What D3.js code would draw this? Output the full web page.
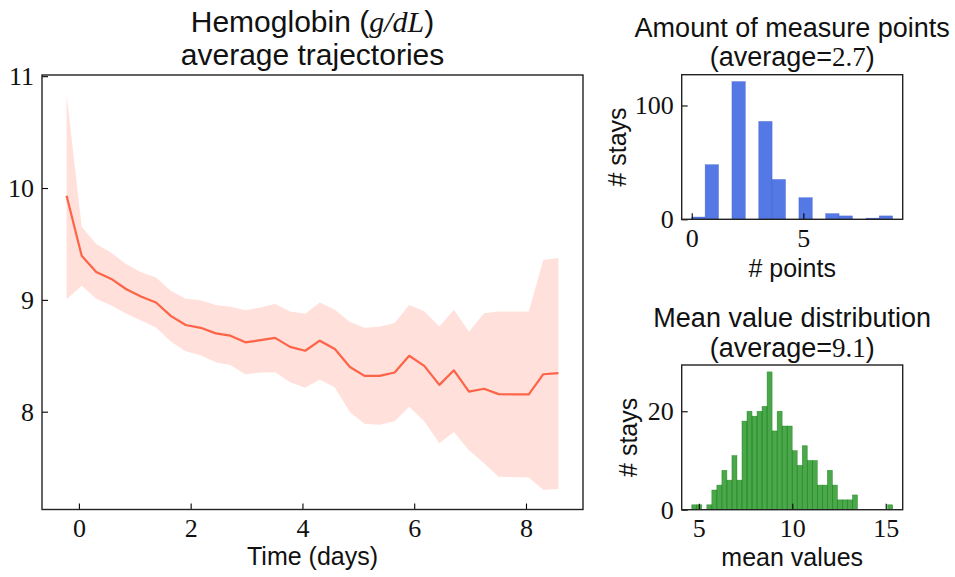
<!DOCTYPE html>
<html><head><meta charset="utf-8">
<script src="https://cdn.jsdelivr.net/npm/d3@7"></script>
<style>body{margin:0;background:#fff} svg{display:block}</style>
</head><body><svg id="c" width="955" height="577"></svg>
<script>
// ---- Main chart data: Hemoglobin average trajectories ----
const times = [-0.22, 0.05, 0.31, 0.58, 0.85, 1.11, 1.38, 1.65, 1.91, 2.18, 2.45, 2.71, 2.98, 3.25, 3.51, 3.78, 4.05,
  4.31, 4.58, 4.85, 5.11, 5.38, 5.65, 5.91, 6.18, 6.45, 6.71, 6.98, 7.25, 7.51, 7.78, 8.05, 8.31, 8.58];
const meanValues = [9.93, 9.395, 9.25, 9.187, 9.095, 9.03, 8.976, 8.855, 8.775, 8.75, 8.70, 8.68, 8.62, 8.64, 8.66, 8.58, 8.545,
  8.635, 8.56, 8.40, 8.32, 8.32, 8.35, 8.50, 8.41, 8.24, 8.37, 8.18, 8.205, 8.157, 8.155, 8.155, 8.335, 8.344];
const upperValues = [10.834, 9.653, 9.499, 9.421, 9.318, 9.247, 9.199, 9.080, 9.009, 8.997, 8.955, 8.938, 8.908, 8.932, 8.962, 8.896, 8.875,
  8.976, 8.911, 8.801, 8.751, 8.760, 8.792, 8.955, 8.899, 8.762, 8.911, 8.715, 8.881, 8.896, 8.896, 8.896, 9.356, 9.374];
const lowerValues = [9.006, 9.127, 9.009, 8.95, 8.875, 8.816, 8.753, 8.626, 8.54, 8.504, 8.442, 8.418, 8.335, 8.35, 8.353, 8.264, 8.214,
  8.288, 8.216, 7.996, 7.893, 7.884, 7.914, 8.044, 7.914, 7.718, 7.818, 7.655, 7.54, 7.418, 7.416, 7.412, 7.302, 7.308];
const mainXTicks = [0, 2, 4, 6, 8];
const mainYTicks = [8, 9, 10, 11];

// ---- Histogram 1: amount of measure points ----
const pointValues = [0, 1, 2, 3, 4, 5, 6, 7, 8, 9];
const pointBinStarts = [0, 0.6, 1.8, 3.0, 3.6, 4.8, 6.0, 6.6, 7.8, 8.4];
const pointCounts = [2, 48, 121, 86, 35, 19, 5, 3, 1, 3];
const pointBinWidth = 0.6;
const pointXTicks = [0, 5];
const pointYTicks = [0, 100];
const pointAverage = "2.7";

// ---- Histogram 2: mean value distribution ----
const meanRange = [4.62, 15.37];
const meanCounts = [1, 1, 0, 1, 4, 5, 8, 6, 11, 6, 18, 20, 19, 20, 21, 28, 16, 20, 17, 17,
  12, 9, 13, 10, 10, 5, 5, 8, 5, 2, 2, 2, 3, 0, 0, 0, 0, 0, 0, 1];
const meanXTicks = [5, 10, 15];
const meanYTicks = [0, 20];
const meanAverage = "9.1";

const SANS = "'Liberation Sans', Arial, Helvetica, sans-serif";
const SERIF = "'Liberation Serif', 'Times New Roman', serif";
const svg = d3.select("#c");

function padDomain(lo, hi, f = 0.05) { const p = (hi - lo) * f; return [lo - p, hi + p]; }

function drawAxes(g, x, y, xt, yt, box) {
  const ax = g.append("g").attr("transform", `translate(0,${box.b})`)
    .call(d3.axisBottom(x).tickValues(xt).tickSizeInner(-6).tickSizeOuter(0).tickPadding(9).tickFormat(d3.format("d")));
  const ay = g.append("g").attr("transform", `translate(${box.l},0)`)
    .call(d3.axisLeft(y).tickValues(yt).tickSizeInner(-6).tickSizeOuter(0).tickPadding(8).tickFormat(d3.format("d")));
  [ax, ay].forEach(a => {
    a.select(".domain").remove();
    a.selectAll(".tick line").attr("stroke", "#000").attr("stroke-width", 1.1);
    a.selectAll("text").attr("font-family", SERIF).attr("font-size", 26).attr("fill", "#111");
  });
  g.append("rect").attr("x", box.l).attr("y", box.t).attr("width", box.r - box.l).attr("height", box.b - box.t)
    .attr("fill", "none").attr("stroke", "#222").attr("stroke-width", 1.4);
}

function twoLineTitle(cx, y1, y2, size, line1, line2) {
  const t1 = svg.append("text").attr("x", cx).attr("y", y1).attr("text-anchor", "middle")
    .attr("font-family", SANS).attr("font-size", size).attr("fill", "#111");
  line1(t1);
  const t2 = svg.append("text").attr("x", cx).attr("y", y2).attr("text-anchor", "middle")
    .attr("font-family", SANS).attr("font-size", size).attr("fill", "#111");
  line2(t2);
}

// ===== Main chart =====
{
  const box = {l: 42, r: 583, t: 75, b: 509.5};
  const x = d3.scaleLinear().domain(padDomain(...d3.extent(times))).range([box.l, box.r]);
  const yExt = d3.extent(lowerValues.concat(upperValues));
  const y = d3.scaleLinear().domain(padDomain(...yExt)).range([box.b, box.t]);
  const g = svg.append("g");
  const idx = d3.range(times.length);
  g.append("path").datum(idx)
    .attr("d", d3.area().x(i => x(times[i])).y0(i => y(lowerValues[i])).y1(i => y(upperValues[i])))
    .attr("fill", "tomato").attr("fill-opacity", 0.2);
  g.append("path").datum(idx)
    .attr("d", d3.line().x(i => x(times[i])).y(i => y(meanValues[i])))
    .attr("fill", "none").attr("stroke", "tomato").attr("stroke-width", 2.2).attr("stroke-linejoin", "round");
  drawAxes(g, x, y, mainXTicks, mainYTicks, box);
  svg.append("text").attr("x", (box.l + box.r) / 2).attr("y", 565).attr("text-anchor", "middle")
    .attr("font-family", SANS).attr("font-size", 25).attr("fill", "#111").text("Time (days)");
  twoLineTitle((box.l + box.r) / 2, 32, 65, 30,
    t => { t.append("tspan").text("Hemoglobin (");
           t.append("tspan").attr("font-family", SERIF).attr("font-style", "italic").text("g/dL");
           t.append("tspan").text(")"); },
    t => t.text("average trajectories"));
}

// ===== Histogram 1 =====
{
  const box = {l: 681.7, r: 902.7, t: 74.7, b: 219.3};
  const x = d3.scaleLinear().domain(padDomain(d3.min(pointBinStarts), d3.max(pointBinStarts) + pointBinWidth)).range([box.l, box.r]);
  const y = d3.scaleLinear().domain([0, d3.max(pointCounts) * 1.05]).range([box.b, box.t]);
  const g = svg.append("g");
  g.selectAll("rect.bar").data(pointCounts).join("rect").attr("class", "bar")
    .attr("x", (d, i) => x(pointBinStarts[i])).attr("width", (d, i) => x(pointBinStarts[i] + pointBinWidth) - x(pointBinStarts[i]))
    .attr("y", d => y(d)).attr("height", d => y(0) - y(d))
    .attr("fill", "royalblue").attr("fill-opacity", 0.9)
    .attr("stroke", "#3050c8").attr("stroke-opacity", 0.5).attr("stroke-width", 0.6);
  drawAxes(g, x, y, pointXTicks, pointYTicks, box);
  svg.append("text").attr("transform", `translate(626,${(box.t + box.b) / 2}) rotate(-90)`).attr("text-anchor", "middle")
    .attr("font-family", SANS).attr("font-size", 25).attr("fill", "#111").text("# stays");
  svg.append("text").attr("x", (box.l + box.r) / 2).attr("y", 277).attr("text-anchor", "middle")
    .attr("font-family", SANS).attr("font-size", 25).attr("fill", "#111").text("# points");
  twoLineTitle((box.l + box.r) / 2, 37, 66, 27,
    t => t.text("Amount of measure points"),
    t => { t.append("tspan").text("(average=");
           t.append("tspan").attr("font-family", SERIF).text(pointAverage);
           t.append("tspan").text(")"); });
}

// ===== Histogram 2 =====
{
  const box = {l: 681.7, r: 902.7, t: 365, b: 509.7};
  const nb = meanCounts.length;
  const edges = d3.range(nb + 1).map(i => meanRange[0] + i * (meanRange[1] - meanRange[0]) / nb);
  const x = d3.scaleLinear().domain(padDomain(...meanRange)).range([box.l, box.r]);
  const y = d3.scaleLinear().domain([0, d3.max(meanCounts) * 1.05]).range([box.b, box.t]);
  const g = svg.append("g");
  g.selectAll("rect.bar").data(meanCounts).join("rect").attr("class", "bar")
    .attr("x", (d, i) => x(edges[i])).attr("width", (d, i) => x(edges[i + 1]) - x(edges[i]))
    .attr("y", d => y(d)).attr("height", d => y(0) - y(d))
    .attr("fill", "green").attr("fill-opacity", 0.7)
    .attr("stroke", "green").attr("stroke-opacity", d => d > 0 ? 0.6 : 0).attr("stroke-width", 0.6);
  drawAxes(g, x, y, meanXTicks, meanYTicks, box);
  svg.append("text").attr("transform", `translate(637,${(box.t + box.b) / 2}) rotate(-90)`).attr("text-anchor", "middle")
    .attr("font-family", SANS).attr("font-size", 25).attr("fill", "#111").text("# stays");
  svg.append("text").attr("x", (box.l + box.r) / 2).attr("y", 566).attr("text-anchor", "middle")
    .attr("font-family", SANS).attr("font-size", 25).attr("fill", "#111").text("mean values");
  twoLineTitle((box.l + box.r) / 2, 327, 357, 27,
    t => t.text("Mean value distribution"),
    t => { t.append("tspan").text("(average=");
           t.append("tspan").attr("font-family", SERIF).text(meanAverage);
           t.append("tspan").text(")"); });
}
</script>
</body></html>
